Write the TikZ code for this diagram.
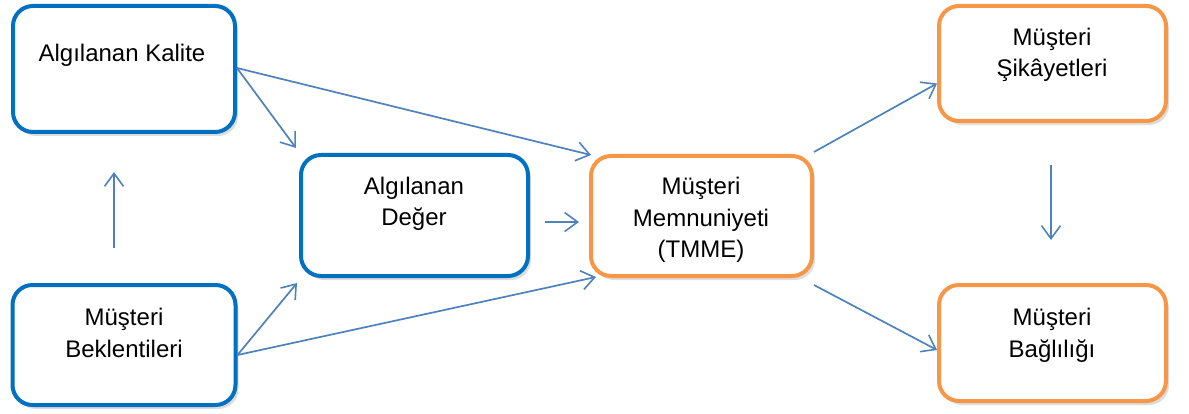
\documentclass[tikz,border=0pt]{standalone}
\usepackage{fontspec}
\setmainfont{Liberation Sans}
\usetikzlibrary{arrows.meta,shadows}
\definecolor{boxblue}{RGB}{0,112,192}
\definecolor{boxorange}{RGB}{247,150,70}
\definecolor{arrblue}{RGB}{79,129,189}
\tikzset{
  card/.style={draw, line width=4pt, rounded corners=20pt, fill=white, inner sep=0pt,
    drop shadow={shadow xshift=3pt, shadow yshift=-4pt, opacity=0.22, fill=black!60}},
  bluecard/.style={card, draw=boxblue},
  orangecard/.style={card, draw=boxorange},
  lbl/.style={font=\fontsize{24}{31.5}\selectfont, align=center, anchor=base, inner sep=0pt},
  conn/.style={draw=arrblue, line width=1.7pt, -{Straight Barb[length=13pt,width=19pt,line width=1.6pt]}}
}
\begin{document}
\begin{tikzpicture}[x=1pt,y=-1pt]
\useasboundingbox (0,0) rectangle (1189,414);
% boxes
\node[bluecard, minimum width=222pt, minimum height=126pt] (kal) at (124,69) {};
\node[bluecard, minimum width=223pt, minimum height=120pt] (bek) at (124,345) {};
\node[bluecard, minimum width=227pt, minimum height=121pt] (deg) at (414.5,215.5) {};
\node[orangecard, minimum width=221pt, minimum height=120pt] (mem) at (701.5,216) {};
\node[orangecard, minimum width=227pt, minimum height=115pt] (sik) at (1052.5,63.5) {};
\node[orangecard, minimum width=227pt, minimum height=116pt] (bag) at (1052.5,343) {};
% texts (anchor=base is the baseline of the last line)
\node[lbl] (kalt) at (122,62) {Algılanan Kalite};
\node[lbl] (degt) at (414,226) {Algılanan\\Değer};
\node[lbl] (memt) at (701,258) {Müşteri\\Memnuniyeti\\(TMME)};
\node[lbl] (sikt) at (1052,77) {Müşteri\\Şikâyetleri};
\node[lbl] (bagt) at (1052,357) {Müşteri\\Bağlılığı};
\node[lbl] (bekt) at (124,357) {Müşteri\\Beklentileri};
% helper coordinates for free-standing arrows
\coordinate (upA) at (114,248);
\coordinate (upB) at (114,172);
\coordinate (dnA) at (1051,165);
\coordinate (dnB) at (1051,240);
\coordinate (dmA) at (545,222);
\coordinate (dmB) at (579,222);
% connectors
\draw[conn] (upA) -- (upB);
\draw[conn] (dnA) -- (dnB);
\draw[conn] (dmA) -- (dmB);
\draw[conn] ([yshift=1pt]kal.east) -- ([xshift=-3pt,yshift=5pt]deg.north west);
\draw[conn] ([yshift=1pt]kal.east) -- ([xshift=2pt,yshift=-1pt]mem.north west);
\draw[conn] ([yshift=-10pt]bek.east) -- ([xshift=-2pt,yshift=-5pt]deg.south west);
\draw[conn] ([yshift=-10pt]bek.east) -- ([xshift=7pt,yshift=1pt]mem.south west);
\draw[conn] ([yshift=2pt]mem.north east) -- ([yshift=-20pt]sik.west);
\draw[conn] ([yshift=-7pt]mem.south east) -- ([yshift=-7pt]bag.west);
\end{tikzpicture}
\end{document}
